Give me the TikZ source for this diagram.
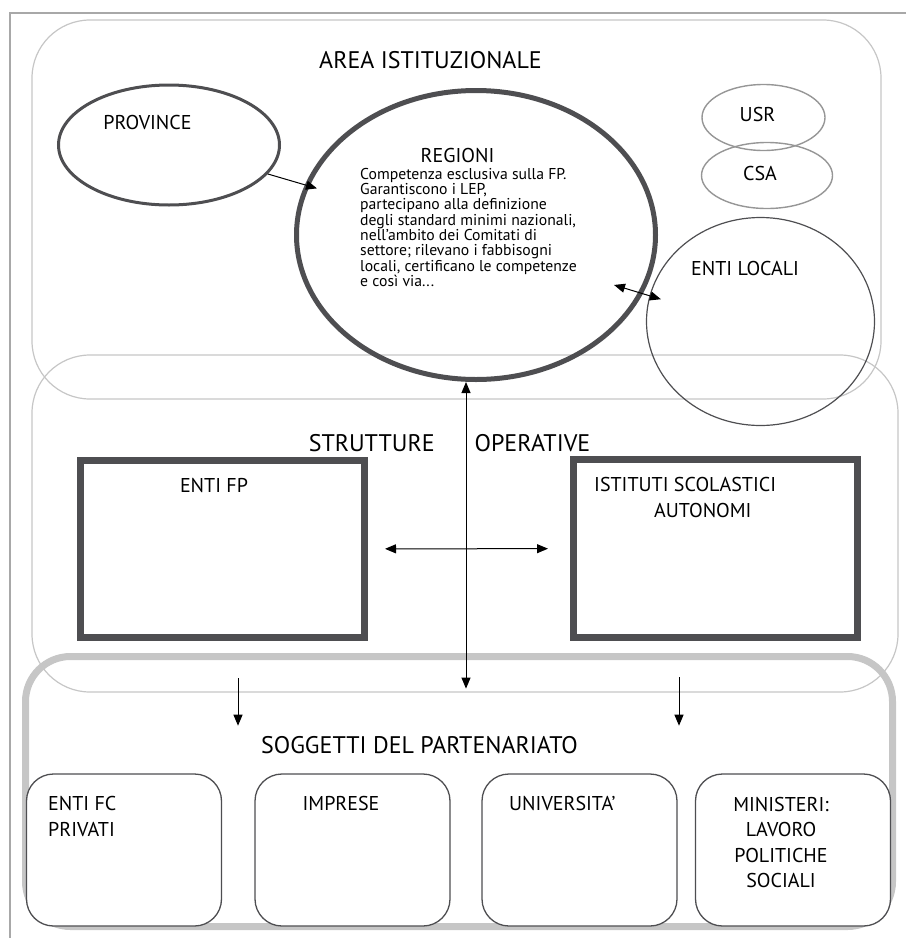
\documentclass[tikz,border=0pt]{standalone}
\usepackage{fontspec}
\setmainfont{PT Sans}
\usetikzlibrary{arrows.meta,positioning,shapes.geometric,calc}
\definecolor{framegray}{RGB}{168,168,168}
\definecolor{pale}{RGB}{198,198,198}
\definecolor{slate}{RGB}{78,78,81}
\definecolor{mist}{RGB}{150,150,150}
\tikzset{
  >={Triangle[length=11pt,width=9pt]},
  panel/.style={draw=pale,line width=1.2pt,rounded corners=58pt,inner sep=0pt},
  heading/.style={font=\fontsize{24}{28}\selectfont,inner sep=0pt},
  lbl/.style={font=\fontsize{20}{26}\selectfont,inner sep=0pt,align=left},
  body/.style={font=\fontsize{15.7}{15.35}\selectfont,inner sep=0pt,align=left},
  oval/.style={ellipse,draw=#1,inner sep=0pt},
  oval/.default=slate,
  block/.style={draw=slate,line width=7pt,inner sep=0pt,minimum width=284pt},
  partner/.style={draw=slate,fill=white,line width=1.3pt,rounded corners=27pt,
    minimum width=195pt,minimum height=152pt,inner sep=0pt},
  link/.style={draw=black,line width=1pt},
}

\begin{document}
\begin{tikzpicture}[x=1pt,y=-1pt]
  \useasboundingbox (0,0) rectangle (906,938);
  \draw[framegray,line width=1.5pt] (906,13) -- (10,13) -- (10,938);
  % the three areas
  \node[panel,minimum width=849pt,minimum height=379pt] (area) at (456.5,209.5) {};
  \node[panel,minimum width=866pt,minimum height=337pt] (strut) at (465,523.5) {};
  \node[panel,line width=7pt,rounded corners=45pt,minimum width=867pt,
    minimum height=270pt] (sogg) at (459,791.5) {};
  % area istituzionale (multi-line texts sit on their last baseline)
  \node[oval,line width=3pt,minimum width=221pt,minimum height=120pt] (prov) at (169,145) {};
  \node[oval,line width=5pt,minimum width=359pt,minimum height=289pt] (reg) at (476,235) {};
  \node[oval=mist,line width=1.4pt,minimum width=123pt,minimum height=66pt] (usr) at (763.5,117.5) {};
  \node[oval=mist,line width=1.4pt,minimum width=131pt,minimum height=66pt] (csa) at (767,175.5) {};
  \node[oval,line width=1.2pt,minimum width=228pt,minimum height=208pt] (enti) at (760.5,321.5) {};
  \node[heading,anchor=base] (areat) at (430.5,68) {AREA ISTITUZIONALE};
  \node[lbl,anchor=base] (provt) at (147.5,129) {PROVINCE};
  \node[lbl,anchor=base] (regt) at (457.5,162) {REGIONI};
  \node[body,anchor=base west] (regb) at (360,286.5) {Competenza esclusiva sulla FP.\\Garantiscono i LEP,\\partecipano alla definizione\\degli standard minimi nazionali,\\nell'ambito dei Comitati di\\settore; rilevano i fabbisogni\\locali, certificano le competenze\\e così via...};
  \node[lbl,anchor=base] (usrt) at (757.5,121) {USR};
  \node[lbl,anchor=base] (csat) at (760,180) {CSA};
  \node[lbl,anchor=base] (entit) at (745,275) {ENTI LOCALI};
  % strutture operative
  \node[block,minimum height=177pt] (entifp) at (222.5,549) {};
  \node[block,minimum height=178pt] (istituti) at (715.5,548.5) {};
  \node[heading,anchor=base] (strutt) at (449.5,451) {STRUTTURE\hspace{40pt}OPERATIVE};
  \node[lbl,anchor=base] (entifpt) at (214,492) {ENTI FP};
  \node[lbl,anchor=base west] (istitutit) at (594,517) {ISTITUTI SCOLASTICI\\\hspace*{60pt}AUTONOMI};
  % soggetti del partenariato
  \foreach \x/\n in {124/efc,352.5/imp,579.5/uni,793/min}
    \node[partner] (\n) at (\x,850) {};
  \node[heading,anchor=base] (soggt) at (419.5,753) {SOGGETTI DEL PARTENARIATO};
  \node[lbl,anchor=base west] (efct) at (48,836) {ENTI FC\\PRIVATI};
  \node[lbl,anchor=base] (impt) at (341,810) {IMPRESE};
  \node[lbl,anchor=base west] (unit) at (509,810) {UNIVERSITA'};
  \node[lbl,anchor=base,align=center,font=\fontsize{20}{25.5}\selectfont] (mint) at (781,887.5) {MINISTERI:\\LAVORO\\POLITICHE\\SOCIALI};
  % links
  \draw[link,->] (prov) -- ($(prov.center)!0.482!(reg.center)$);
  \draw[link,<->] ($(reg.center)!0.485!(enti.center)+(0,8)$) -- ($(reg.center)!0.65!(enti.center)+(0,8)$);
  \draw[link,<->,shorten >=4pt] ([xshift=-10pt]reg.south) -- ([xshift=-10pt]reg.south |- strut.south);
  \draw[link,<->,shorten <=17pt,shorten >=22pt] (entifp) -- (istituti);
  \coordinate (dl) at (238,678);
  \coordinate (dr) at (679,677);
  \draw[link,->,shorten >=10pt] (dl) -- (dl |- soggt.north);
  \draw[link,->,shorten >=10pt] (dr) -- (dr |- soggt.north);
\end{tikzpicture}
\end{document}
